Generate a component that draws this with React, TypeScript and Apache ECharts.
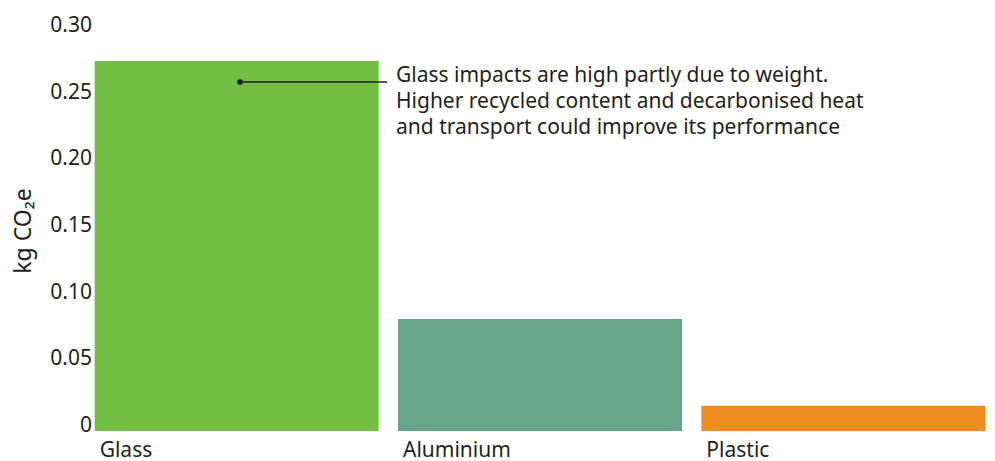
import React, { useEffect, useRef } from "react";
import * as echarts from "echarts";

const categories = ["Glass", "Aluminium", "Plastic"];
const values = [0.2775, 0.084, 0.019];
const barColors = ["#72bf44", "#67a58a", "#f08c1e"];
const yTicks = [0, 0.05, 0.1, 0.15, 0.2, 0.25, 0.3];
const annotationLines = [
  "Glass impacts are high partly due to weight.",
  "Higher recycled content and decarbonised heat",
  "and transport could improve its performance",
];

const FONT = "'Noto Sans', 'Open Sans', sans-serif";
const TEXT = "#231f20";
const FS = 21;

export default function App() {
  const ref = useRef<HTMLDivElement>(null);
  useEffect(() => {
    if (!ref.current) return;
    const chart = echarts.init(ref.current, undefined, { renderer: "svg" });
    chart.setOption({
      animation: false,
      textStyle: { fontFamily: FONT },
      grid: { left: 85, right: 0, top: 31, bottom: 30, containLabel: false, outerBoundsMode: "none" },
      xAxis: {
        type: "category",
        data: categories,
        axisLine: { show: false },
        axisTick: { show: false },
        axisLabel: { show: false },
      },
      yAxis: {
        type: "value",
        min: 0,
        max: 0.3,
        interval: 0.05,
        name: "kg CO₂e",
        nameLocation: "middle",
        nameGap: 52,
        nameTextStyle: { color: TEXT, fontSize: 23, fontFamily: FONT },
        axisLine: { show: false },
        axisTick: { show: false },
        splitLine: { show: false },
        axisLabel: {
          color: TEXT,
          fontSize: FS,
          fontFamily: FONT,
          margin: -7,
          verticalAlign: "bottom",
          lineHeight: 14,
          formatter: (v: number) => {
            const t = yTicks.find((k) => Math.abs(k - v) < 1e-9);
            if (t === undefined) return "";
            return t === 0 ? "0" : t.toFixed(2);
          },
        },
      },
      series: [
        {
          type: "bar",
          barWidth: 284,
          data: values.map((v, i) => ({ value: v, itemStyle: { color: barColors[i] } })),
          label: {
            show: true,
            position: "insideBottomLeft",
            distance: 5,
            offset: [0, 33],
            formatter: "{b}",
            color: TEXT,
            fontSize: FS,
            fontFamily: FONT,
          },
        },
      ],
      graphic: [
        { type: "line", z: 100, shape: { x1: 240, y1: 82, x2: 387, y2: 82 }, style: { stroke: TEXT, lineWidth: 1.5 } },
        { type: "circle", z: 101, shape: { cx: 240, cy: 82, r: 3 }, style: { fill: TEXT } },
        {
          type: "text",
          z: 100,
          x: 396,
          y: 61,
          style: {
            text: annotationLines.join("\n"),
            fill: TEXT,
            fontSize: FS,
            lineHeight: 26,
            fontFamily: FONT,
            verticalAlign: "top",
          },
        },
      ],
    });
    return () => chart.dispose();
  }, []);
  return (
    <div
      ref={ref}
      style={{ position: "fixed", left: 0, top: 0, width: 995, height: 461, background: "#fff" }}
    />
  );
}
